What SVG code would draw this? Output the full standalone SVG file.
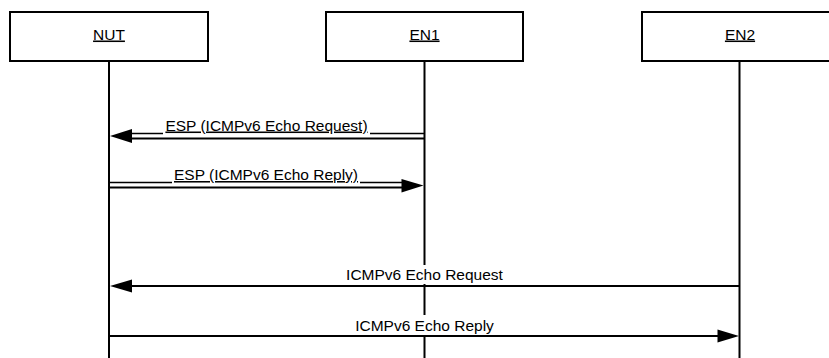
<svg xmlns="http://www.w3.org/2000/svg" width="829" height="358" viewBox="0 0 829 358">
<style>
.box{fill:#fff;stroke:#000;stroke-width:2}
.life{stroke:#000;stroke-width:2;fill:none}
.ln{stroke:#000;stroke-width:2;fill:none}
.thin{stroke:#000;stroke-width:1.5;fill:none}
.lbl{font-family:"Liberation Sans",Arial,Helvetica,sans-serif;font-size:15.5px;fill:#000;text-anchor:middle}
.u{text-decoration:underline}
.head{fill:#000;stroke:none}
.bg{fill:#fff;stroke:none}
</style>
<rect width="829" height="358" fill="#fff"/>
<g id="lifelines">
<line class="life" x1="109" y1="61" x2="109" y2="358"/>
<line class="life" x1="424.5" y1="61" x2="424.5" y2="358"/>
<line class="life" x1="739.5" y1="61" x2="739.5" y2="358"/>
</g>
<g id="node-NUT">
<rect class="box" x="10" y="12" width="198" height="49"/>
<text class="lbl u" x="109" y="39.5">NUT</text>
</g>
<g id="node-EN1">
<rect class="box" x="326" y="12" width="197" height="49"/>
<text class="lbl u" x="424.5" y="39.5">EN1</text>
</g>
<g id="node-EN2">
<rect class="box" x="642" y="12" width="197" height="49"/>
<text class="lbl u" x="740" y="39.5">EN2</text>
</g>
<g id="connectors">
<g id="msg1">
<line class="thin" x1="131" y1="133.5" x2="163" y2="133.5"/>
<line class="thin" x1="370" y1="133.5" x2="424" y2="133.5"/>
<line class="ln" x1="128" y1="138.5" x2="424" y2="138.5"/>
<polygon class="head" points="110,136 132,129 132,143"/>
<text class="lbl u" x="266.5" y="130.5">ESP (ICMPv6 Echo Request)</text>
</g>
<g id="msg2">
<line class="thin" x1="109" y1="182.5" x2="172" y2="182.5"/>
<line class="thin" x1="360" y1="182.5" x2="403" y2="182.5"/>
<line class="ln" x1="109" y1="187.5" x2="406" y2="187.5"/>
<polygon class="head" points="423.5,185.5 401.5,179 401.5,192.5"/>
<text class="lbl u" x="266" y="180">ESP (ICMPv6 Echo Reply)</text>
</g>
<g id="msg3">
<line class="ln" x1="128" y1="286" x2="739" y2="286"/>
<polygon class="head" points="110,286 132,279.5 132,292.5"/>
<rect class="bg" x="344" y="265" width="161" height="19"/>
<text class="lbl" x="424.5" y="280">ICMPv6 Echo Request</text>
</g>
<g id="msg4">
<line class="ln" x1="109" y1="336" x2="721" y2="336"/>
<polygon class="head" points="739,336 717.5,329.5 717.5,342.5"/>
<rect class="bg" x="354" y="315" width="142" height="20"/>
<text class="lbl" x="424.5" y="331">ICMPv6 Echo Reply</text>
</g>
</g>
</svg>
